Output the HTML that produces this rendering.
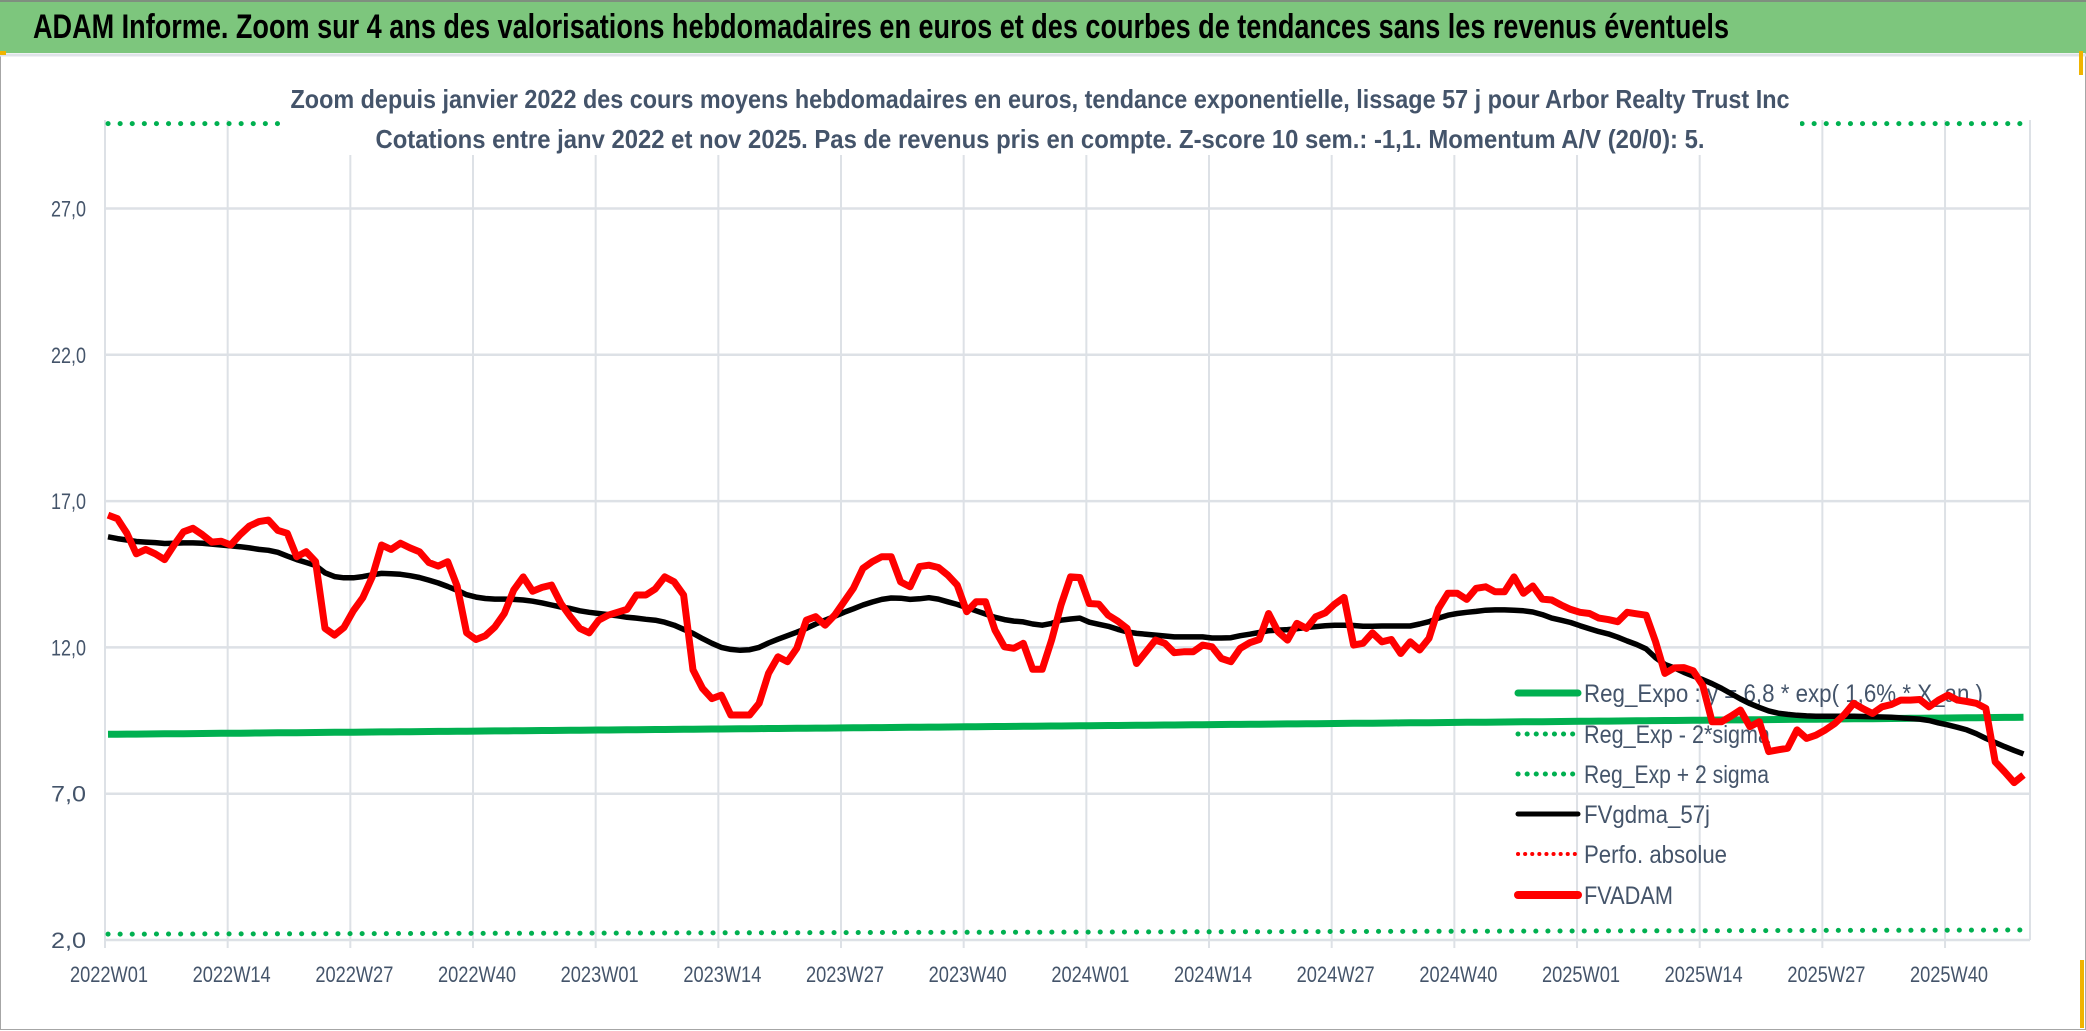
<!DOCTYPE html>
<html><head><meta charset="utf-8"><style>
html,body{margin:0;padding:0;background:#fff;width:2086px;height:1031px;overflow:hidden}
svg{display:block}
text{font-family:"Liberation Sans",sans-serif}
</style></head><body>
<svg id="chart" width="2086" height="1031" viewBox="0 0 2086 1031" xmlns="http://www.w3.org/2000/svg">
<rect x="0.5" y="0.5" width="2085" height="1029" fill="#fff" stroke="#a6a6a6"/>
<rect x="0" y="2" width="2086" height="51" fill="#7DC67D"/>
<line x1="0" y1="1" x2="2086" y2="1" stroke="#7f8f7f" stroke-width="2"/>
<line x1="0" y1="55" x2="2086" y2="55" stroke="#dfe3e8" stroke-width="3"/>
<rect x="0" y="51" width="6" height="4" fill="#f0b400"/>
<rect x="2079" y="51" width="4" height="24" fill="#f0b400"/>
<rect x="2080" y="960" width="4" height="68" fill="#f0b400"/>
<text x="33" y="38" font-size="34" font-weight="bold" fill="#000" textLength="1696" lengthAdjust="spacingAndGlyphs">ADAM Informe. Zoom sur 4 ans des valorisations hebdomadaires en euros et des courbes de tendances sans les revenus éventuels</text>
<g id="grid"></g>
<g id="upperband"></g>
<rect x="284" y="80" width="1516" height="75" fill="#fff"/>
<text x="1040" y="108" text-anchor="middle" font-size="26" font-weight="bold" fill="#44546A" textLength="1499" lengthAdjust="spacingAndGlyphs">Zoom depuis janvier 2022 des cours moyens hebdomadaires en euros, tendance exponentielle, lissage 57 j pour Arbor Realty Trust Inc</text>
<text x="1040" y="148" text-anchor="middle" font-size="26" font-weight="bold" fill="#44546A" textLength="1329" lengthAdjust="spacingAndGlyphs">Cotations entre janv 2022 et nov 2025. Pas de revenus pris en compte. Z-score 10 sem.: -1,1. Momentum A/V (20/0): 5.</text>
<g id="axes"></g>
<g id="legend"></g>
<g id="series"></g>
</svg>
<script>
const yTicks = [2, 7, 12, 17, 22, 27];
const xTickLabels = ["2022W01","2022W14","2022W27","2022W40","2023W01","2023W14","2023W27","2023W40","2024W01","2024W14","2024W27","2024W40","2025W01","2025W14","2025W27","2025W40"];
const fvadam = [16.52,16.4,15.9,15.2,15.35,15.2,15.0,15.5,15.95,16.07,15.85,15.6,15.63,15.5,15.85,16.15,16.3,16.35,16.0,15.9,15.1,15.27,14.93,12.65,12.42,12.68,13.25,13.7,14.41,15.5,15.35,15.56,15.4,15.27,14.9,14.78,14.93,14.1,12.5,12.27,12.4,12.7,13.16,13.96,14.41,13.92,14.05,14.13,13.5,13.05,12.65,12.5,12.93,13.1,13.2,13.3,13.79,13.79,14.0,14.41,14.24,13.79,11.23,10.6,10.25,10.37,9.69,9.69,9.69,10.09,11.11,11.68,11.51,11.97,12.93,13.05,12.76,13.1,13.56,14.02,14.7,14.93,15.1,15.1,14.24,14.07,14.76,14.81,14.73,14.47,14.13,13.22,13.56,13.56,12.59,12.02,11.97,12.14,11.25,11.25,12.25,13.45,14.41,14.39,13.5,13.48,13.1,12.9,12.65,11.45,11.85,12.25,12.14,11.82,11.85,11.85,12.08,12.02,11.62,11.51,11.97,12.16,12.27,13.16,12.53,12.25,12.82,12.65,13.05,13.18,13.48,13.71,12.08,12.14,12.5,12.19,12.27,11.79,12.19,11.91,12.31,13.33,13.85,13.85,13.64,14.02,14.07,13.9,13.9,14.41,13.85,14.1,13.65,13.62,13.45,13.3,13.2,13.16,13.0,12.95,12.88,13.2,13.15,13.1,12.2,11.11,11.3,11.31,11.2,10.7,9.46,9.46,9.65,9.86,9.29,9.46,8.44,8.5,8.55,9.18,8.89,9.0,9.18,9.4,9.7,10.09,9.9,9.74,9.97,10.05,10.2,10.2,10.22,9.97,10.2,10.37,10.2,10.15,10.09,9.92,8.09,7.75,7.38,7.64];
const fvgdma = [15.78,15.72,15.67,15.62,15.6,15.58,15.55,15.56,15.57,15.57,15.56,15.53,15.5,15.47,15.44,15.4,15.35,15.32,15.25,15.12,15.0,14.9,14.8,14.55,14.42,14.38,14.38,14.42,14.48,14.53,14.52,14.5,14.45,14.39,14.3,14.2,14.08,13.95,13.8,13.72,13.67,13.65,13.65,13.64,13.62,13.58,13.52,13.45,13.38,13.33,13.25,13.2,13.16,13.12,13.08,13.03,13.0,12.96,12.93,12.86,12.76,12.62,12.48,12.3,12.14,12.0,11.93,11.9,11.92,12.0,12.15,12.28,12.4,12.52,12.65,12.8,12.93,13.06,13.2,13.32,13.45,13.55,13.64,13.69,13.68,13.64,13.66,13.7,13.65,13.56,13.47,13.36,13.25,13.14,13.03,12.95,12.9,12.87,12.8,12.76,12.82,12.93,12.97,13.0,12.86,12.79,12.72,12.62,12.53,12.48,12.45,12.42,12.39,12.36,12.36,12.36,12.36,12.32,12.32,12.33,12.4,12.45,12.51,12.57,12.59,12.61,12.64,12.68,12.71,12.74,12.76,12.76,12.75,12.72,12.72,12.73,12.73,12.73,12.73,12.8,12.88,13.0,13.1,13.16,13.2,13.23,13.27,13.28,13.28,13.27,13.25,13.21,13.12,13.0,12.93,12.85,12.74,12.64,12.54,12.46,12.35,12.22,12.1,11.95,11.65,11.42,11.3,11.15,11.02,10.9,10.76,10.6,10.42,10.24,10.08,9.95,9.83,9.75,9.71,9.68,9.66,9.65,9.65,9.65,9.65,9.65,9.64,9.63,9.62,9.61,9.59,9.57,9.55,9.5,9.42,9.35,9.27,9.18,9.05,8.89,8.75,8.61,8.48,8.36];
const regStart = 9.03;
const regRate = 0.016;
const lowerBandStart = 2.2;
const upperBandStart = 29.9;
const legendLabels = ["Reg_Expo : y = 6,8 * exp( 1,6% * X_an )","Reg_Exp - 2*sigma","Reg_Exp + 2 sigma","FVgdma_57j","Perfo. absolue","FVADAM"];

const NS = "http://www.w3.org/2000/svg";
const X0 = 105, WEEK = 9.436, PT_OFF = 3, Y2 = 940, PXU = 29.26, TOP = 120, RIGHT = 2030;
function xCat(i){ return X0 + PT_OFF + i * WEEK; }
function yVal(v){ return Y2 - (v - 2) * PXU; }
function mk(tag, attrs, parent){ const e = document.createElementNS(NS, tag); for (const k in attrs) e.setAttribute(k, attrs[k]); parent.appendChild(e); return e; }
const grid = document.getElementById('grid'), axes = document.getElementById('axes'), legend = document.getElementById('legend'), series = document.getElementById('series'), upper = document.getElementById('upperband');

yTicks.forEach(function(t){
  const l = mk('line', {x1: X0, x2: RIGHT, y1: yVal(t), y2: yVal(t), stroke: '#dde1e6', 'stroke-width': 2.5}, grid);
  
  
  const tx = mk('text', {x: 86, y: yVal(t) + 8, 'text-anchor': 'end', 'font-size': 22, fill: '#44546A', textLength: 35, lengthAdjust: 'spacingAndGlyphs'}, axes);
  tx.textContent = t.toFixed(1).replace('.', ',');
  
  
});
xTickLabels.forEach(function(lab, k){
  const gx = X0 + k * 13 * WEEK;
  const l = mk('line', {x1: gx, x2: gx, y1: TOP, y2: Y2 + 8, stroke: '#dde1e6', 'stroke-width': 2}, grid);
  
  
  const tx = mk('text', {x: gx + 4, y: 982, 'text-anchor': 'middle', 'font-size': 22, fill: '#44546A', textLength: 78, lengthAdjust: 'spacingAndGlyphs'}, axes);
  tx.textContent = lab;
  
  
});
mk('line', {x1: RIGHT, x2: RIGHT, y1: TOP, y2: Y2, stroke: '#dde1e6', 'stroke-width': 2}, grid);

function pathFrom(vals){ return vals.map(function(v, i){ return (i ? 'L' : 'M') + xCat(i).toFixed(1) + ' ' + yVal(v).toFixed(1); }).join(' '); }
const n = fvadam.length;
const regVals = [], lowVals = [], upVals = [];
for (let i = 0; i < n; i++) {
  const g = Math.exp(regRate * i / 52);
  regVals.push(regStart * g); lowVals.push(lowerBandStart * g); upVals.push(upperBandStart * g);
}
const upY = Math.max(TOP + 3, yVal(upVals[0]));
const ub = mk('line', {x1: xCat(0), x2: RIGHT - 6, y1: upY, y2: upY, stroke: '#00B050', 'stroke-width': 5, 'stroke-dasharray': '0.1 12', 'stroke-linecap': 'round'}, upper);



const LX1 = 1518, LX2 = 1578, LTX = 1584, LY = [693, 734, 774, 814, 854, 895];
const legW = [399, 186, 185, 126, 143, 89];
const legStyle = [
  {stroke: '#00B050', w: 7, dash: null},
  {stroke: '#00B050', w: 5, dash: '0.1 9'},
  {stroke: '#00B050', w: 5, dash: '0.1 9'},
  {stroke: '#000', w: 5, dash: null},
  {stroke: '#FF0000', w: 4, dash: '0.1 7'},
  {stroke: '#FF0000', w: 8, dash: null}
];
legendLabels.forEach(function(lab, k){
  const s = legStyle[k];
  const a = {x1: LX1, x2: LX2, y1: LY[k], y2: LY[k], stroke: s.stroke, 'stroke-width': s.w, 'stroke-linecap': 'round'};
  if (s.dash) a['stroke-dasharray'] = s.dash;
  const l = mk('line', a, legend);
  
  
  const tx = mk('text', {x: LTX, y: LY[k] + 9, 'font-size': 25, fill: '#44546A', textLength: legW[k], lengthAdjust: 'spacingAndGlyphs'}, legend);
  tx.textContent = lab;
  
  
});

const low = mk('path', {d: pathFrom(lowVals), fill: 'none', stroke: '#00B050', 'stroke-width': 5, 'stroke-dasharray': '0.1 12', 'stroke-linecap': 'round'}, series);


const reg = mk('path', {d: pathFrom(regVals), fill: 'none', stroke: '#00B050', 'stroke-width': 7}, series);


const blk = mk('path', {d: pathFrom(fvgdma), fill: 'none', stroke: '#000', 'stroke-width': 5.5, 'stroke-linejoin': 'round'}, series);


const red = mk('path', {d: pathFrom(fvadam), fill: 'none', stroke: '#FF0000', 'stroke-width': 7, 'stroke-linejoin': 'round'}, series);


</script>
</body></html>
